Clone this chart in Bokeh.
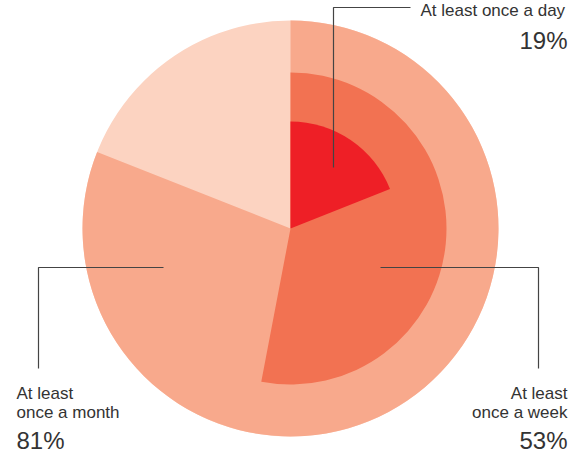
import math
from bokeh.plotting import figure
from bokeh.models import Range1d
from bokeh.core.properties import value
from bokeh.embed import file_html
from bokeh.resources import INLINE

# ---- data ----
categories = ["At least once a day", "At least once a week", "At least once a month"]
shares = [19, 53, 81]                      # percent of respondents
label_lines = [["At least once a day"], ["At least", "once a week"], ["At least", "once a month"]]

# ---- style / layout ----
W, H = 569, 454
wedge_colors = ["#ee1f26", "#f27252", "#f8a98c"]
rest_color = "#fcd3c1"
radii = [107, 156, 208]
cx, cy = 302, 244           # reference-pixel coords of centre
text_color = "#333333"
line_color = "#444444"
FONT = value("Liberation Sans")
X0, Y0 = 12, 16             # reference pixel shown at the figure's top-left
TB = 6                      # baseline correction for svg text

def Y(sy):
    return 470 - sy

p = figure(width=W, height=H, output_backend="svg", toolbar_location=None,
           x_range=Range1d(X0, X0 + W), y_range=Range1d(Y(Y0 + H), Y(Y0)),
           min_border=0, outline_line_color=None, background_fill_color=None,
           border_fill_color=None)
p.axis.visible = False
p.grid.visible = False

# full outer disc (the "rest")
p.wedge(x=cx, y=Y(cy), radius=radii[-1], start_angle=0, end_angle=2 * math.pi,
        fill_color=rest_color, line_color=None)

# wedges from largest to smallest
for share, r, col in sorted(zip(shares, radii, wedge_colors), key=lambda t: -t[1]):
    start = math.pi / 2
    end = start - share / 100 * 2 * math.pi
    p.wedge(x=cx, y=Y(cy), radius=r, start_angle=start, end_angle=end,
            direction="clock", fill_color=col, line_color=None)

# leader lines (reference pixel coords)
leaders = [
    ([345, 345, 422], [183, 23, 23]),
    ([392, 550, 550], [283, 283, 384]),
    ([175, 50, 50], [283, 283, 384]),
]
for xs, ys in leaders:
    p.line(x=xs, y=[Y(v) for v in ys], line_color=line_color, line_width=1.2)

def T(sy):
    return Y(sy - TB)

# labels
p.text(x=[432], y=[T(32)], text=[label_lines[0][0]], text_align="left",
       text_baseline="alphabetic", text_font=FONT, text_font_size="17px",
       text_color=text_color)
p.text(x=[579], y=[T(62)], text=[f"{shares[0]}%"], text_align="right",
       text_baseline="alphabetic", text_font=FONT, text_font_size="24px",
       text_color=text_color)

for i, ln in enumerate(label_lines[1]):
    p.text(x=[579], y=[T(415 + 19 * i)], text=[ln], text_align="right",
           text_baseline="alphabetic", text_font=FONT, text_font_size="17px",
           text_color=text_color)
p.text(x=[579], y=[T(462)], text=[f"{shares[1]}%"], text_align="right",
       text_baseline="alphabetic", text_font=FONT, text_font_size="24px",
       text_color=text_color)

for i, ln in enumerate(label_lines[2]):
    p.text(x=[28], y=[T(415 + 19 * i)], text=[ln], text_align="left",
           text_baseline="alphabetic", text_font=FONT, text_font_size="17px",
           text_color=text_color)
p.text(x=[28], y=[T(462)], text=[f"{shares[2]}%"], text_align="left",
       text_baseline="alphabetic", text_font=FONT, text_font_size="24px",
       text_color=text_color)

open("out.html", "w").write(file_html(p, INLINE))
